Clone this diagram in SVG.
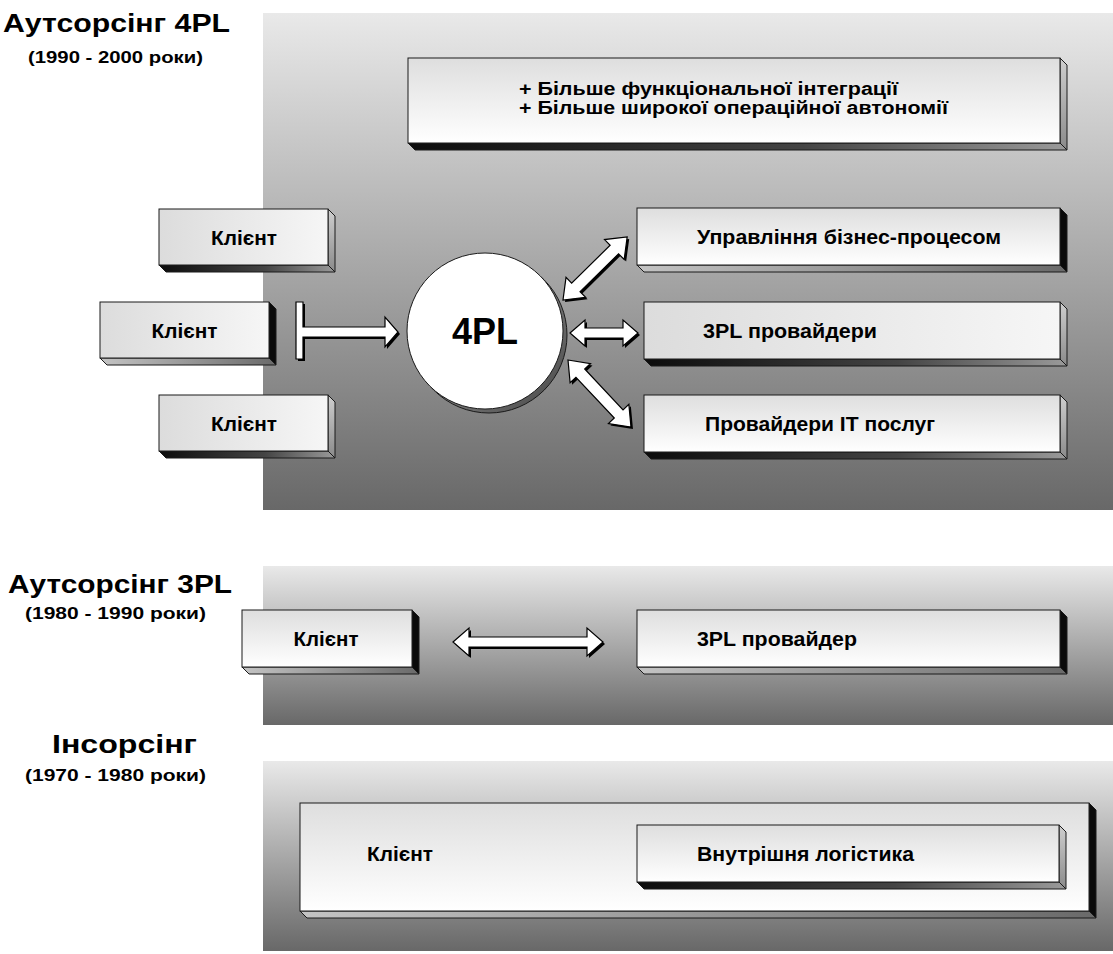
<svg xmlns="http://www.w3.org/2000/svg" width="1113" height="954" viewBox="0 0 1113 954">
<defs>
<linearGradient id="panelG" x1="0" y1="0" x2="0" y2="1">
<stop offset="0" stop-color="#e9e9e9"/>
<stop offset="1" stop-color="#686868"/>
</linearGradient>
<linearGradient id="fv" x1="0" y1="0" x2="0" y2="1">
<stop offset="0" stop-color="#dedede"/>
<stop offset="1" stop-color="#ffffff"/>
</linearGradient>
<linearGradient id="fh" x1="0" y1="0" x2="1" y2="0">
<stop offset="0" stop-color="#dcdcdc"/>
<stop offset="1" stop-color="#f6f6f6"/>
</linearGradient>
<linearGradient id="sideLight" x1="0" y1="0" x2="0" y2="1">
<stop offset="0" stop-color="#cfcfcf"/>
<stop offset="1" stop-color="#8a8a8a"/>
</linearGradient>
<linearGradient id="botDark" x1="0" y1="0" x2="1" y2="0">
<stop offset="0" stop-color="#0c0c0c"/>
<stop offset="0.6" stop-color="#444"/>
<stop offset="1" stop-color="#9a9a9a"/>
</linearGradient>
<linearGradient id="botLight" x1="0" y1="0" x2="1" y2="0">
<stop offset="0" stop-color="#c4c4c4"/>
<stop offset="1" stop-color="#6a6a6a"/>
</linearGradient>
<linearGradient id="circShadow" x1="0" y1="0" x2="1" y2="1">
<stop offset="0" stop-color="#bbb"/>
<stop offset="1" stop-color="#444"/>
</linearGradient>
<style>
.panel{fill:url(#panelG);}
.ff{fill:url(#fv);stroke:#1a1a1a;stroke-width:1;}
.fh{fill:url(#fh);stroke:#1a1a1a;stroke-width:1;}
.sd{fill:#0a0a0a;stroke:#1a1a1a;stroke-width:1;}
.sl{fill:url(#sideLight);stroke:#1a1a1a;stroke-width:1;}
.bd{fill:url(#botDark);stroke:#1a1a1a;stroke-width:1;}
.bl{fill:url(#botLight);stroke:#1a1a1a;stroke-width:1;}
text{font-family:"Liberation Sans",Arial,sans-serif;font-weight:bold;fill:#000;}
.lbl{font-size:20px;}
.ttl{font-size:25px;text-anchor:middle;}
.yr{font-size:17px;text-anchor:middle;}
.tb{font-size:18px;}
.mid{text-anchor:middle;}
.arr{fill:#fff;stroke:#000;stroke-width:1.2;stroke-linejoin:miter;}
.arrs{fill:#000;}
</style>
</defs>

<rect width="1113" height="954" fill="#fff"/>

<g id="panels">
<rect class="panel" x="263" y="13" width="850" height="497"/>
<rect class="panel" x="263" y="566" width="850" height="159"/>
<rect class="panel" x="263" y="761" width="850" height="190"/>
</g>

<g id="titles">
<text class="ttl" x="116.5" y="32" textLength="227" lengthAdjust="spacingAndGlyphs">Аутсорсінг 4PL</text>
<text class="yr" x="115.5" y="63" textLength="175" lengthAdjust="spacingAndGlyphs">(1990 - 2000 роки)</text>
<text class="ttl" x="120" y="593" textLength="224" lengthAdjust="spacingAndGlyphs">Аутсорсінг 3PL</text>
<text class="yr" x="115.5" y="619" textLength="181" lengthAdjust="spacingAndGlyphs">(1980 - 1990 роки)</text>
<text class="ttl" x="124.5" y="753" textLength="145" lengthAdjust="spacingAndGlyphs">Інсорсінг</text>
<text class="yr" x="115.5" y="781" textLength="181" lengthAdjust="spacingAndGlyphs">(1970 - 1980 роки)</text>
</g>

<g id="node-benefits">
<polygon class="sl" points="1060,58 1067,65 1067,150 1060,143"/>
<polygon class="bd" points="408,143 1060,143 1067,150 415,150"/>
<rect class="ff" x="408" y="58" width="652" height="85"/>
<text class="tb" x="519" y="95" textLength="379" lengthAdjust="spacingAndGlyphs">+ Більше функціональної інтеграції</text>
<text class="tb" x="519" y="114" textLength="429" lengthAdjust="spacingAndGlyphs">+ Більше широкої операційної автономії</text>
</g>

<g id="node-client-1">
<polygon class="sl" points="328,209 335,216 335,272 328,265"/>
<polygon class="bd" points="159,265 328,265 335,272 166,272"/>
<rect class="fh" x="159" y="209" width="169" height="56"/>
<text class="lbl mid" x="244" y="245" textLength="66" lengthAdjust="spacingAndGlyphs">Клієнт</text>
</g>

<g id="node-client-2">
<polygon class="sd" points="269,302 276,309 276,365 269,358"/>
<polygon class="bl" points="100,358 269,358 276,365 107,365"/>
<rect class="fh" x="100" y="302" width="169" height="56"/>
<text class="lbl mid" x="184.5" y="338" textLength="66" lengthAdjust="spacingAndGlyphs">Клієнт</text>
</g>

<g id="node-client-3">
<polygon class="sl" points="328,395 335,402 335,458 328,451"/>
<polygon class="bd" points="159,451 328,451 335,458 166,458"/>
<rect class="fh" x="159" y="395" width="169" height="56"/>
<text class="lbl mid" x="244" y="431" textLength="66" lengthAdjust="spacingAndGlyphs">Клієнт</text>
</g>

<g id="node-4pl">
<circle cx="489" cy="335" r="78" fill="url(#circShadow)" stroke="#1a1a1a" stroke-width="1"/>
<circle cx="485" cy="331" r="78" fill="#fff" stroke="#1a1a1a" stroke-width="1"/>
<text class="mid" style="font-size:36px" x="485" y="344">4PL</text>
</g>

<g id="node-bpm">
<polygon class="sd" points="1060,208 1067,215 1067,272 1060,265"/>
<polygon class="bl" points="637,265 1060,265 1067,272 644,272"/>
<rect class="ff" x="637" y="208" width="423" height="57"/>
<text class="lbl" x="697" y="244" textLength="304" lengthAdjust="spacingAndGlyphs">Управління бізнес-процесом</text>
</g>

<g id="node-3pl-providers">
<polygon class="sl" points="1060,302 1067,309 1067,366 1060,359"/>
<polygon class="bd" points="644,359 1060,359 1067,366 651,366"/>
<rect class="fh" x="644" y="302" width="416" height="57"/>
<text class="lbl" x="703" y="338" textLength="174" lengthAdjust="spacingAndGlyphs">3PL провайдери</text>
</g>

<g id="node-it-providers">
<polygon class="sl" points="1060,395 1067,402 1067,459 1060,452"/>
<polygon class="bd" points="644,452 1060,452 1067,459 651,459"/>
<rect class="ff" x="644" y="395" width="416" height="57"/>
<text class="lbl" x="705" y="431" textLength="230" lengthAdjust="spacingAndGlyphs">Провайдери IT послуг</text>
</g>

<g id="node-3pl-client">
<polygon class="sd" points="412,610 419,617 419,674 412,667"/>
<polygon class="bl" points="242,667 412,667 419,674 249,674"/>
<rect class="ff" x="242" y="610" width="170" height="57"/>
<text class="lbl mid" x="326" y="646" textLength="65" lengthAdjust="spacingAndGlyphs">Клієнт</text>
</g>

<g id="node-3pl-provider">
<polygon class="sd" points="1060,610 1067,617 1067,674 1060,667"/>
<polygon class="bl" points="637,667 1060,667 1067,674 644,674"/>
<rect class="ff" x="637" y="610" width="423" height="57"/>
<text class="lbl" x="697" y="646" textLength="160" lengthAdjust="spacingAndGlyphs">3PL провайдер</text>
</g>

<g id="node-insourcing-client">
<polygon class="sd" points="1089,803 1096,810 1096,918 1089,911"/>
<polygon class="bl" points="300,911 1089,911 1096,918 307,918"/>
<rect class="ff" x="300" y="803" width="789" height="108"/>
<text class="lbl" x="367" y="861" textLength="66" lengthAdjust="spacingAndGlyphs">Клієнт</text>
</g>

<g id="node-internal-logistics">
<polygon class="sl" points="1059,825 1066,832 1066,889 1059,882"/>
<polygon class="bd" points="637,882 1059,882 1066,889 644,889"/>
<rect class="ff" x="637" y="825" width="422" height="57"/>
<text class="lbl" x="697" y="861" textLength="217" lengthAdjust="spacingAndGlyphs">Внутрішня логістика</text>
</g>

<g id="connectors">
<g id="conn-client-4pl">
<polygon class="arrs" transform="translate(2,2)" points="296,302 303,302 303,327 385,327 385,317 398,332 385,347 385,337 303,337 303,359 296,359"/>
<polygon class="arr" points="296,302 303,302 303,327 385,327 385,317 398,332 385,347 385,337 303,337 303,359 296,359"/>
</g>
<g id="conn-4pl-bpm">
<g transform="translate(2,2)"><polygon class="arrs" transform="translate(563,300) rotate(-44.5)" points="0,0 18,-14 18,-6 72,-6 72,-14 90,0 72,14 72,6 18,6 18,14"/></g>
<polygon class="arr" transform="translate(563,300) rotate(-44.5)" points="0,0 18,-14 18,-6 72,-6 72,-14 90,0 72,14 72,6 18,6 18,14"/>
</g>
<g id="conn-4pl-3pl">
<polygon class="arrs" transform="translate(572,335)" points="0,0 15,-13 15,-5 53,-5 53,-13 68,0 53,13 53,5 15,5 15,13"/>
<polygon class="arr" transform="translate(570,333)" points="0,0 15,-13 15,-5 53,-5 53,-13 68,0 53,13 53,5 15,5 15,13"/>
</g>
<g id="conn-4pl-it">
<g transform="translate(2,2)"><polygon class="arrs" transform="translate(568,360) rotate(46.8)" points="0,0 18,-14 18,-6 74,-6 74,-14 92,0 74,14 74,6 18,6 18,14"/></g>
<polygon class="arr" transform="translate(568,360) rotate(46.8)" points="0,0 18,-14 18,-6 74,-6 74,-14 92,0 74,14 74,6 18,6 18,14"/>
</g>
<g id="conn-3pl">
<polygon class="arrs" transform="translate(455,644)" points="0,0 16,-14 16,-5 134,-5 134,-14 150,0 134,14 134,5 16,5 16,14"/>
<polygon class="arr" transform="translate(453,642)" points="0,0 16,-14 16,-5 134,-5 134,-14 150,0 134,14 134,5 16,5 16,14"/>
</g>
</g>
</svg>
